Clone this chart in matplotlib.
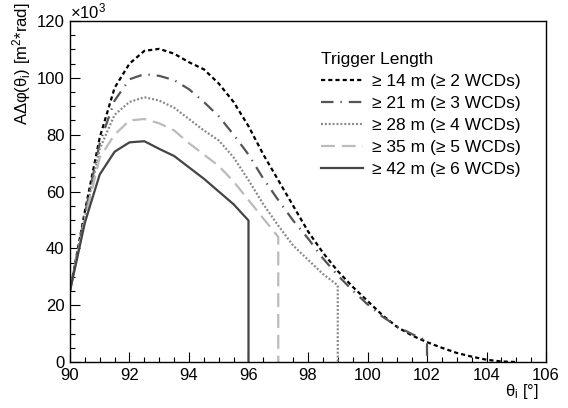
import matplotlib
matplotlib.use("Agg")
import matplotlib.pyplot as plt
from matplotlib.ticker import MultipleLocator

plt.rcParams['font.family'] = ['Liberation Sans', 'DejaVu Sans']
plt.rcParams['mathtext.fontset'] = 'custom'
plt.rcParams['mathtext.rm'] = 'Liberation Sans'
plt.rcParams['mathtext.it'] = 'Liberation Sans:italic'
plt.rcParams['lines.scale_dashes'] = False

# zenith angle theta_i [deg] and effective area * solid angle [10^3 m^2 rad]
theta_14 = [90, 90.5, 91, 91.5, 92, 92.5, 93, 93.5, 94, 94.5, 95, 95.5, 96, 96.5, 97,
            97.5, 98, 98.5, 99, 99.5, 100, 100.5, 101, 101.5, 102, 102.5, 103, 103.5,
            104, 104.5, 105]
aeff_14 = [25, 53, 79, 96.5, 105, 109.5, 110.2, 108.5, 105.5, 103, 98, 91.5, 83, 73, 64,
           55, 46, 38.5, 32, 26.5, 21.5, 16.5, 12.3, 9.3, 7, 5, 3.2, 1.9, 0.8, 0.2, 0]

theta_21 = [90, 90.5, 91, 91.5, 92, 92.5, 93, 93.5, 94, 94.5, 95, 95.5, 96, 96.5, 97,
            97.5, 98, 98.5, 99, 99.5, 100, 100.5, 101, 101.5, 102, 102]
aeff_21 = [25, 52, 77, 92, 99.5, 101.3, 100.7, 99.2, 96, 91.5, 86.5, 80, 73, 64.5, 57,
           49.8, 43.5, 36.5, 30.5, 25.2, 20.3, 16, 12.5, 9.8, 7.5, 0]

theta_28 = [90, 90.5, 91, 91.5, 92, 92.5, 93, 93.5, 94, 94.5, 95, 95.5, 96, 96.5, 97,
            97.5, 98, 98.5, 99, 99]
aeff_28 = [25, 51, 75, 87, 91.5, 93.2, 92, 89.5, 85.5, 81.5, 78, 72, 64, 55.5, 48,
           41, 36, 31, 27, 0]

theta_35 = [90, 90.5, 91, 91.5, 92, 92.5, 93, 93.5, 94, 94.5, 95, 95.5, 96, 96.5, 97, 97]
aeff_35 = [25, 50, 72, 80, 85, 85.5, 84, 81.5, 77, 73, 69, 63.5, 57, 50.5, 44, 0]

theta_42 = [90, 90.5, 91, 91.5, 92, 92.5, 93, 93.5, 94, 94.5, 95, 95.5, 96, 96]
aeff_42 = [25, 49, 66, 74, 77.3, 77.7, 75, 72.5, 68.5, 64.5, 60, 55.5, 49.8, 0]

labels = ['≥ 14 m (≥ 2 WCDs)', '≥ 21 m (≥ 3 WCDs)', '≥ 28 m (≥ 4 WCDs)',
          '≥ 35 m (≥ 5 WCDs)', '≥ 42 m (≥ 6 WCDs)']

fig = plt.figure(figsize=(5.68, 4.08), dpi=100)
ax = fig.add_axes([0.1232, 0.1127, 0.8381, 0.8358])

ax.plot(theta_14, aeff_14, color='black', lw=1.6, ls=(0, (3, 2.2)), label=labels[0])
ax.plot(theta_21, aeff_21, color='#555555', lw=1.6, ls=(0, (9, 5, 1, 5)), label=labels[1])
ax.plot(theta_28, aeff_28, color='#888888', lw=1.6, ls=(0, (1.4, 1.4)), label=labels[2])
ax.plot(theta_35, aeff_35, color='#bbbbbb', lw=1.6, ls=(0, (10, 5)), label=labels[3])
ax.plot(theta_42, aeff_42, color='#444444', lw=1.6, ls='-', label=labels[4])

ax.set_xlim(90, 106)
ax.set_ylim(0, 120)
ax.xaxis.set_major_locator(MultipleLocator(2))
ax.xaxis.set_minor_locator(MultipleLocator(0.5))
ax.yaxis.set_major_locator(MultipleLocator(20))
ax.yaxis.set_minor_locator(MultipleLocator(5))
ax.tick_params(which='both', direction='in', top=False, right=False, labelsize=12)
ax.tick_params(which='major', length=7, width=0.8)
ax.tick_params(which='minor', length=3.6, width=0.8)
ax.tick_params(axis='x', pad=4)
ax.tick_params(axis='y', pad=4)
for s in ax.spines.values():
    s.set_linewidth(1.0)

ax.text(0.0, 1.0, '×10$^{3}$', transform=ax.transAxes, ha='left', va='bottom', fontsize=12)
ax.text(0.985, -0.06, r'θ$_{\rm i}$ [°]', transform=ax.transAxes, ha='right', va='top', fontsize=12)
fig.text(0.038, 0.995, r'AΔφ(θ$_{\rm i}$) [m$^{2}$*rad]', rotation=90, ha='center', va='top',
         fontsize=12)

leg = ax.legend(loc='upper left', bbox_to_anchor=(0.51, 0.935), frameon=False,
                title='Trigger Length', fontsize=12.5, title_fontsize=12.5, alignment='left',
                handlelength=2.4, handletextpad=0.5, labelspacing=0.4, borderpad=0)

fig.savefig('out.png', dpi=100)
